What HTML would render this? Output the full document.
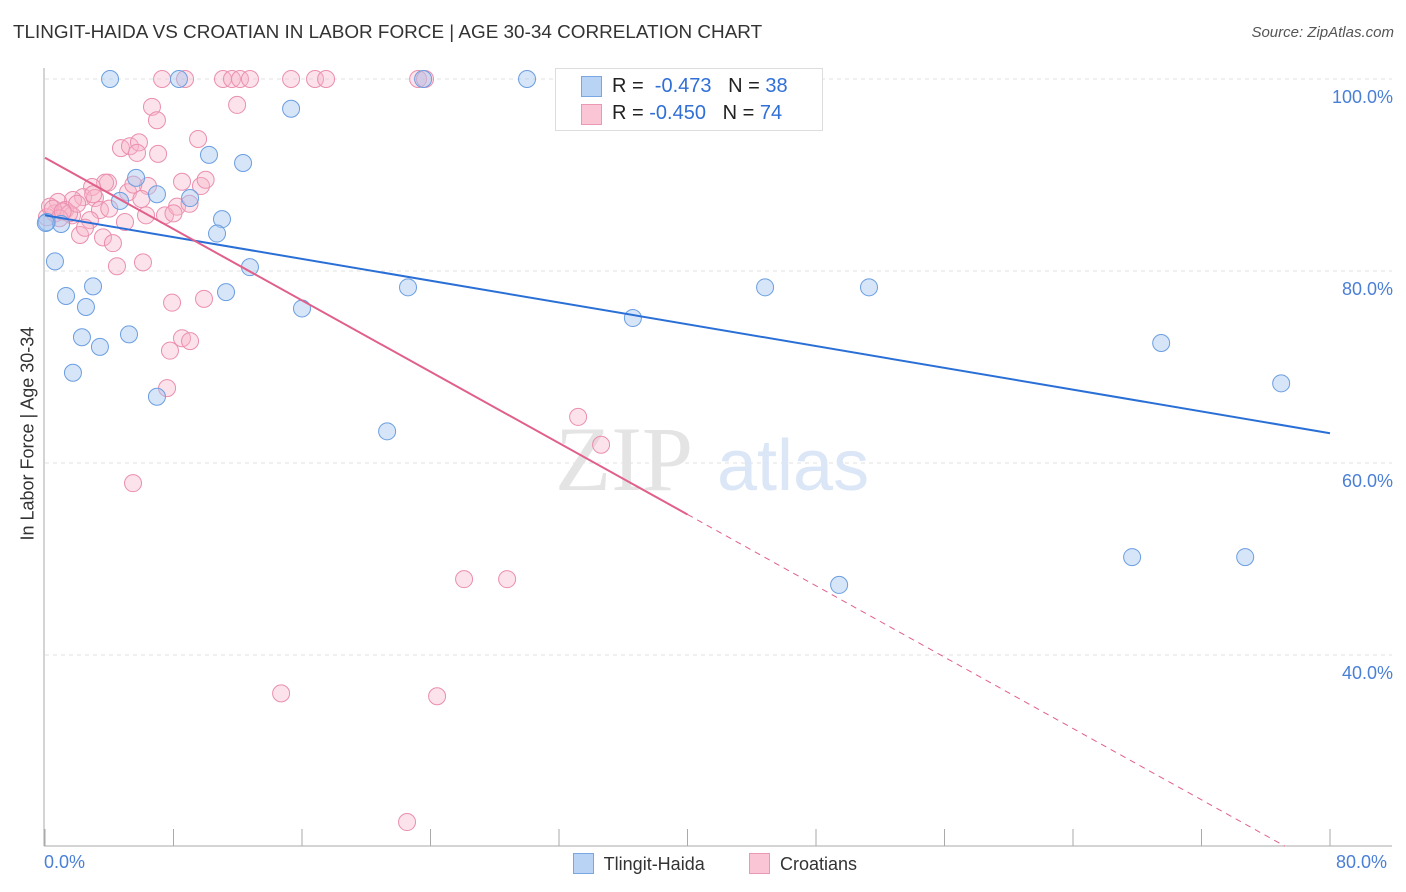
<!DOCTYPE html>
<html><head><meta charset="utf-8"><style>
body{margin:0;background:#fff;font-family:"Liberation Sans",sans-serif;}
#wrap{position:relative;width:1406px;height:892px;overflow:hidden;}
.t{position:absolute;white-space:nowrap;}
</style></head><body>
<div id="wrap">
<div class="t" style="left:13px;top:22px;font-size:18.9px;color:#333;">TLINGIT-HAIDA VS CROATIAN IN LABOR FORCE | AGE 30-34 CORRELATION CHART</div>
<div class="t" style="right:12px;top:24px;font-size:15px;color:#555;font-style:italic;">Source: ZipAtlas.com</div>
<svg id="chart" width="1406" height="892" style="position:absolute;left:0;top:0"></svg>
</div>
<script>
const xTicks=[0,8,16,24,32,40,48,56,64,72,80];
const yTicks=[40,60,80,100];
const yTickLabels=["40.0%","60.0%","80.0%","100.0%"];
const blueX=[4.05,8.34,23.54,30.01,15.32,10.21,12.33,5.67,6.97,9.03,4.67,11.02,10.71,0.12,1.0,0.62,12.76,1.31,2.99,11.27,2.55,16.0,22.6,36.6,44.83,51.3,2.3,5.23,3.42,1.74,69.49,76.96,6.97,21.3,67.68,74.72,49.44,0.05];
const blueY=[100,100,100,100,96.9,92.1,91.25,89.7,88.0,87.6,87.3,85.4,83.9,85.1,84.9,81.0,80.4,77.4,78.4,77.8,76.25,76.1,78.3,75.1,78.3,78.3,73.1,73.4,72.1,69.4,72.5,68.3,66.9,63.3,50.2,50.2,47.3,85.0];
const pinkX=[7.29,8.72,11.08,11.64,12.14,12.76,15.32,16.81,17.5,23.23,23.66,11.96,6.66,6.97,9.53,4.73,5.29,5.85,5.73,7.04,3.92,3.74,2.93,2.37,1.74,0.81,3.11,3.42,2.8,2.18,3.61,4.23,4.98,5.17,6.29,6.41,7.47,8.22,8.53,9.71,4.48,6.1,0.62,0.12,0.31,1.25,1.68,2.49,7.91,9.9,8.53,9.03,7.78,7.6,5.48,33.19,34.62,26.09,28.77,14.7,24.41,22.54,0.5,1.5,2.0,3.0,4.0,5.5,6.0,8.0,9.0,10.0,0.9,1.1];
const pinkY=[100,100,100,100,100,100,100,100,100,100,100,97.3,97.1,95.7,93.75,92.8,93.0,93.4,92.3,92.2,89.2,89.2,88.75,87.7,87.4,87.2,87.6,86.35,85.3,83.75,83.5,82.9,85.1,88.2,85.8,88.85,85.8,86.7,89.3,88.85,80.5,80.9,86.0,85.6,86.7,86.35,85.8,84.5,76.7,77.1,73.0,72.7,71.7,67.8,57.9,64.8,61.9,47.9,47.9,36.0,35.7,22.6,86.5,86.0,87.0,88.0,86.5,89.0,87.5,86.0,87.0,89.5,85.5,86.2];
const blueLine=[85.8,63.1];
const pinkLine=[91.8,-0.929];
const X=v=>45+v*(1285/80);
const Y=v=>79+(100-v)*9.6;
const svg=document.getElementById('chart');
const NS='http://www.w3.org/2000/svg';
function mk(tag,attrs,parent){const e=document.createElementNS(NS,tag);for(const k in attrs)e.setAttribute(k,attrs[k]);(parent||svg).appendChild(e);return e;}
yTicks.forEach((v,i)=>{
 const g=mk('line',{x1:45,x2:1392,y1:Y(v),y2:Y(v),stroke:'#e2e2e2','stroke-dasharray':'4,4'});
 
 
 const t=mk('text',{x:1393,y:Y(v)+24,'text-anchor':'end','font-size':18,fill:'#4a7fd6','font-family':'Liberation Sans, sans-serif'});
 t.textContent=yTickLabels[i];
 
 
});
const ax=mk('line',{x1:44,x2:44,y1:68,y2:846,stroke:'#aaa'});


const bx=mk('line',{x1:44,x2:1392,y1:846,y2:846,stroke:'#aaa'});


xTicks.forEach(v=>{
 const l=mk('line',{x1:X(v),x2:X(v),y1:829,y2:846,stroke:'#aaa'});
 
 
});
const wm=mk('text',{x:555,y:490,'font-size':92,fill:'#e4e4e4','font-family':'Liberation Serif, serif'});
wm.textContent='ZIP';


const wm2=mk('text',{x:717,y:490,'font-size':72,fill:'#dbe6f6','font-family':'Liberation Sans, sans-serif'});
wm2.textContent='atlas';


pinkX.forEach((x,i)=>{
 const c=mk('circle',{cx:X(x),cy:Y(pinkY[i]),r:8.5,fill:'rgba(248,178,200,0.38)',stroke:'#ea8fae','stroke-width':1});
 
 
});
blueX.forEach((x,i)=>{
 const c=mk('circle',{cx:X(x),cy:Y(blueY[i]),r:8.5,fill:'rgba(165,198,240,0.45)',stroke:'#6b9ee0','stroke-width':1});
 
 
});
const bl=mk('line',{x1:X(0),y1:Y(blueLine[0]),x2:X(80),y2:Y(blueLine[1]),stroke:'#2a6fd6','stroke-width':2});


const pY=x=>pinkLine[0]+pinkLine[1]*x;
const pl=mk('line',{x1:X(0),y1:Y(pY(0)),x2:X(40),y2:Y(pY(40)),stroke:'#e0608a','stroke-width':2});


const pd=mk('line',{x1:X(40),y1:Y(pY(40)),x2:X(77.2),y2:Y(pY(77.2)),stroke:'#e0608a','stroke-width':1,'stroke-dasharray':'6,5'});


</script>
<div class="t" style="left:-57px;top:445px;font-size:18px;color:#333;transform:rotate(-90deg);transform-origin:center;width:170px;text-align:center;">In Labor Force | Age 30-34</div>
<div class="t" style="left:44px;top:852px;font-size:18px;color:#4a7fd6;">0.0%</div>
<div class="t" style="left:1336px;top:852px;font-size:18px;color:#4a7fd6;">80.0%</div>
<div style="position:absolute;left:555px;top:68px;width:266px;height:61px;border:1px solid #ddd;background:#fff;font-size:20px;">
 <div style="position:absolute;left:25px;top:7px;width:19px;height:19px;background:#b9d3f5;border:1px solid #7aa6e4;"></div>
 <div class="t" style="left:56px;top:6px;color:#222;">R = <span style="color:#2f6fd6">&nbsp;-0.473</span>&nbsp;&nbsp;&nbsp;N = <span style="color:#2f6fd6">38</span></div>
 <div style="position:absolute;left:25px;top:35px;width:19px;height:19px;background:#fac6d6;border:1px solid #eb98b4;"></div>
 <div class="t" style="left:56px;top:33px;color:#222;">R = <span style="color:#2f6fd6">-0.450</span>&nbsp;&nbsp;&nbsp;N = <span style="color:#2f6fd6">74</span></div>
</div>
<div style="position:absolute;left:573px;top:853px;font-size:18px;color:#333;">
 <span style="display:inline-block;width:19px;height:19px;background:#b9d3f5;border:1px solid #7aa6e4;vertical-align:-4px;"></span>&nbsp; Tlingit-Haida</div>
<div style="position:absolute;left:749px;top:853px;font-size:18px;color:#333;">
 <span style="display:inline-block;width:19px;height:19px;background:#fac6d6;border:1px solid #eb98b4;vertical-align:-4px;"></span>&nbsp; Croatians</div>
</body></html>
